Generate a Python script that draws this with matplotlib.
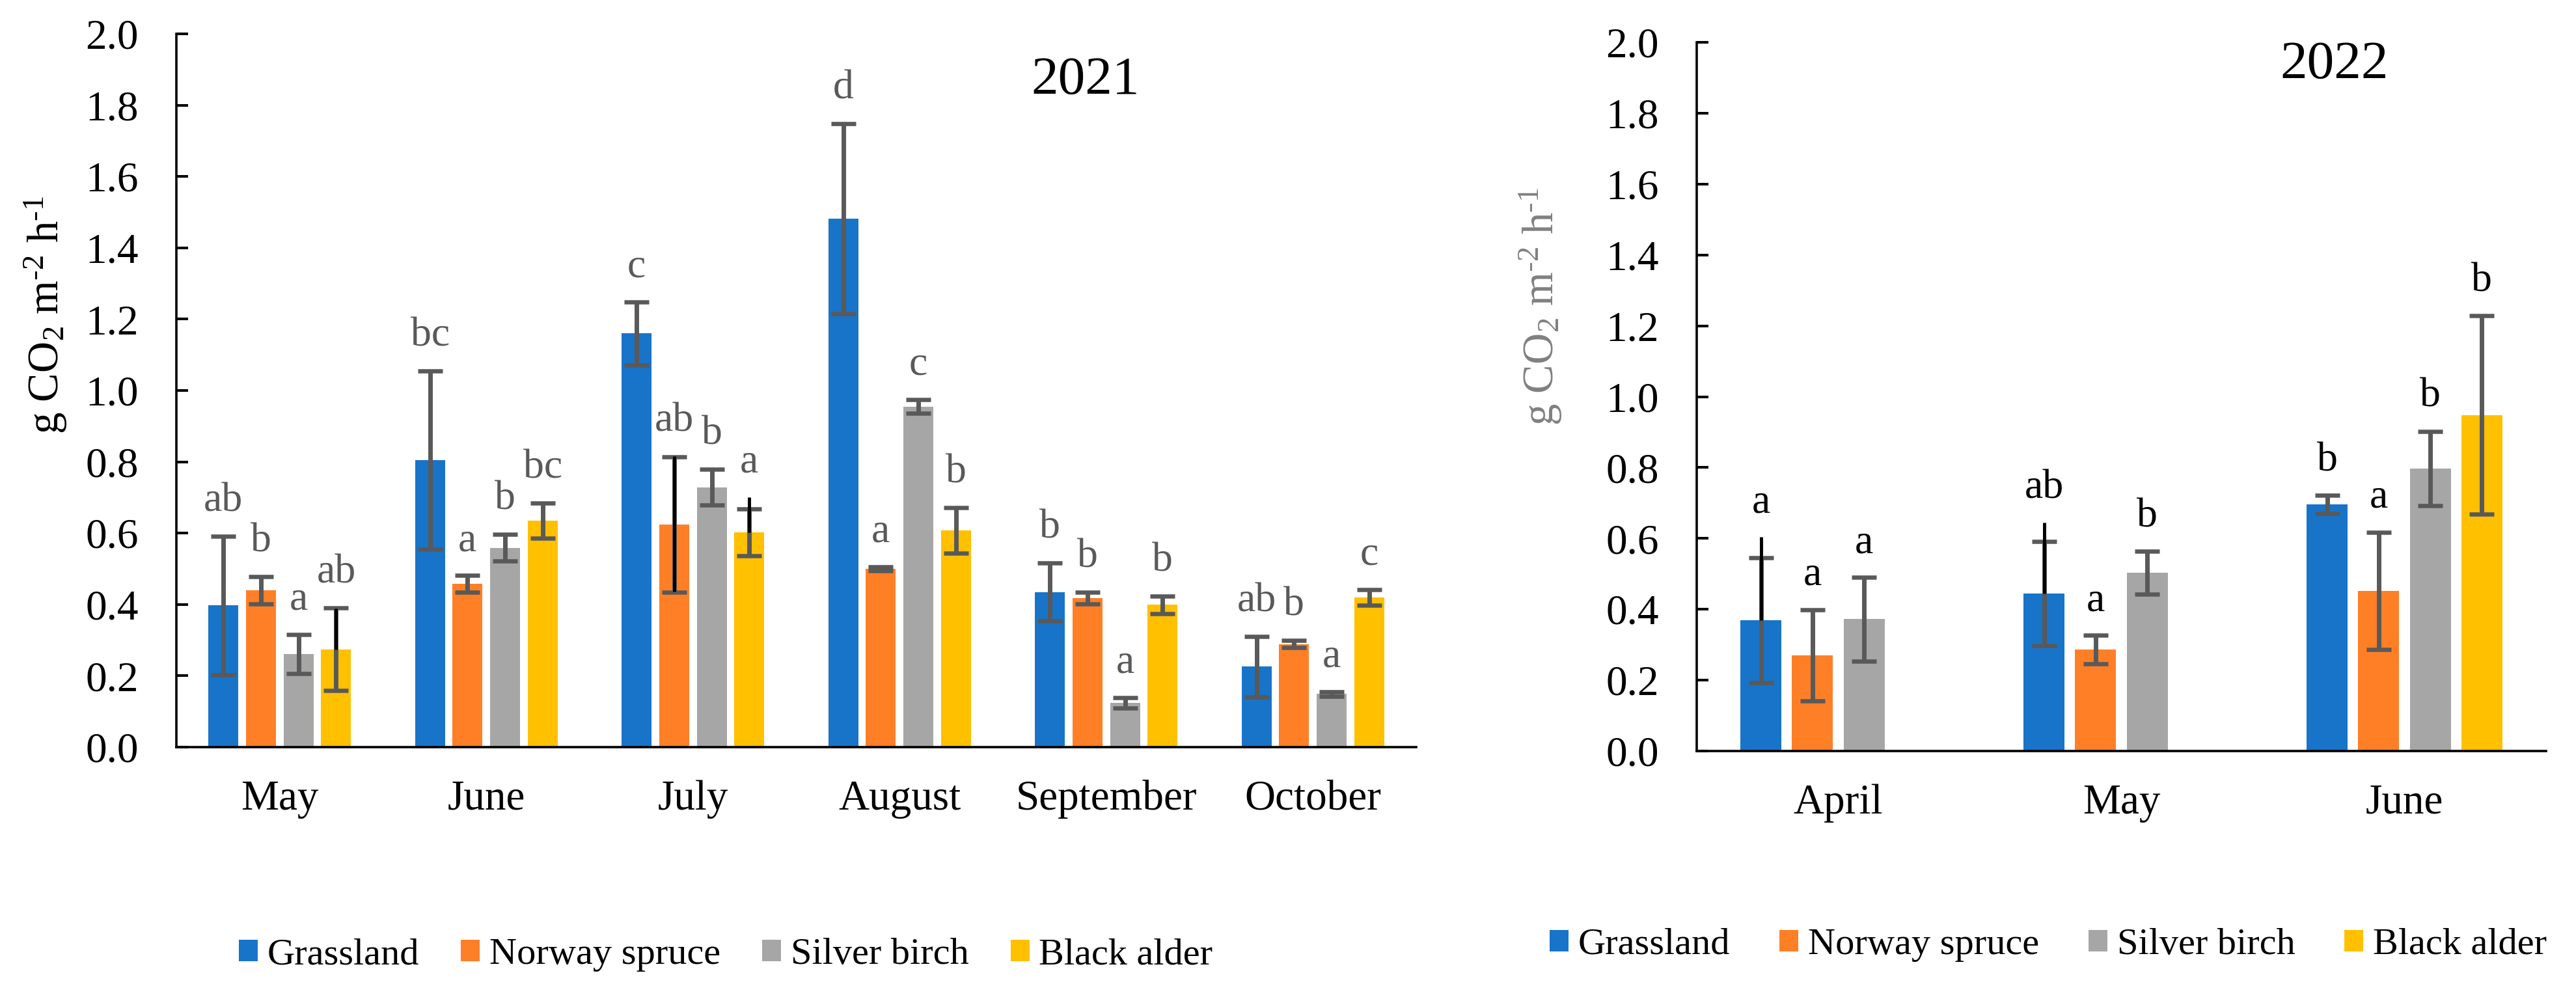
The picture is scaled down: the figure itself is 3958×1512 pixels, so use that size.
import numpy as np
import matplotlib.pyplot as plt
from matplotlib.patches import Patch

plt.rcParams['font.family'] = 'Liberation Serif'
plt.rcParams['mathtext.fontset'] = 'custom'
plt.rcParams['mathtext.rm'] = 'Liberation Serif'
plt.rcParams['mathtext.it'] = 'Liberation Serif:italic'

# ---- data ----
series_names = ['Grassland', 'Norway spruce', 'Silver birch', 'Black alder']
colors = ['#1874C8', '#FF7F27', '#A6A6A6', '#FFC000']

months21 = ['May', 'June', 'July', 'August', 'September', 'October']
grass21 = [0.397, 0.805, 1.160, 1.482, 0.435, 0.226]
grass21_err = [0.194, 0.250, 0.088, 0.266, 0.081, 0.085]
spruce21 = [0.440, 0.458, 0.624, 0.500, 0.418, 0.289]
spruce21_err = [0.038, 0.023, 0.190, 0.005, 0.017, 0.010]
birch21 = [0.261, 0.559, 0.729, 0.955, 0.124, 0.149]
birch21_err = [0.055, 0.038, 0.051, 0.019, 0.015, 0.007]
alder21 = [0.274, 0.635, 0.602, 0.608, 0.399, 0.419]
alder21_err = [0.116, 0.050, 0.066, 0.064, 0.025, 0.022]
grass21_lab = ['ab', 'bc', 'c', 'd', 'b', 'ab']
spruce21_lab = ['b', 'a', 'ab', 'a', 'b', 'b']
birch21_lab = ['a', 'b', 'b', 'c', 'a', 'a']
alder21_lab = ['ab', 'bc', 'a', 'b', 'b', 'c']
# extra black error stems: (series, month, low, high)
black21 = [(3, 0, 0.274, 0.389), (1, 2, 0.436, 0.816), (3, 2, 0.602, 0.701)]

months22 = ['April', 'May', 'June']
grass22 = [0.369, 0.445, 0.696]
grass22_err = [0.176, 0.147, 0.025]
spruce22 = [0.270, 0.286, 0.452]
spruce22_err = [0.129, 0.040, 0.165]
birch22 = [0.372, 0.503, 0.797]
birch22_err = [0.118, 0.060, 0.105]
alder22 = [np.nan, np.nan, 0.948]
alder22_err = [np.nan, np.nan, 0.280]
grass22_lab = ['a', 'ab', 'b']
spruce22_lab = ['a', 'a', 'a']
birch22_lab = ['a', 'b', 'b']
alder22_lab = ['', '', 'b']
black22 = [(0, 0, 0.369, 0.604), (0, 1, 0.445, 0.644)]

ylabel = 'g CO$_\\mathregular{2}$ m$^\\mathregular{\u20102}$ h$^\\mathregular{\u20101}$'

W, H = 3958, 1512
fig = plt.figure(figsize=(W / 100, H / 100), dpi=100)


def draw(ax, months, vals, errs, labs, blacks, lab_color, title, title_xy):
    x = np.arange(len(months))
    pitch, bw = 0.182, 0.145
    for i in range(4):
        pos = x + (i - 1.5) * pitch
        v = np.array(vals[i], dtype=float)
        e = np.array(errs[i], dtype=float)
        ax.bar(pos, v, width=bw, color=colors[i], zorder=2)
        ax.errorbar(pos, v, yerr=e, fmt='none', ecolor='#595959',
                    elinewidth=5, capsize=14, capthick=4.7, zorder=3)
        tops = v + e
        for s, m, lo, hi in blacks:
            if s == i:
                tops[m] = max(tops[m], hi)
        for j in range(len(months)):
            if labs[i][j]:
                ax.text(pos[j], tops[j] + 0.07, labs[i][j], ha='center',
                        va='baseline', fontsize=46, color=lab_color, zorder=5)
    for s, m, lo, hi in blacks:
        px = m + (s - 1.5) * pitch
        ax.plot([px, px], [lo, hi], color='black', lw=3.6,
                solid_capstyle='butt', zorder=4)

    ax.set_xlim(-0.5, len(months) - 0.5)
    ax.set_ylim(0, 2.0)
    ax.set_yticks(np.arange(0, 2.01, 0.2))
    ax.set_yticklabels(['%.1f' % t for t in np.arange(0, 2.01, 0.2)])
    ax.set_xticks(x)
    ax.set_xticklabels(months)
    ax.tick_params(axis='y', direction='in', length=13, width=2.9,
                   labelsize=47, pad=42)
    ax.tick_params(axis='x', length=0, labelsize=47, pad=36)
    for sp in ['top', 'right']:
        ax.spines[sp].set_visible(False)
    for sp in ['left', 'bottom']:
        ax.spines[sp].set_linewidth(2.6)
    ax.text(title_xy[0], title_xy[1], title, ha='center', va='baseline',
            fontsize=60)


ax1 = fig.add_axes([271 / W, 1 - 1148 / H, 1905 / W, 1096 / H])
draw(ax1, months21,
     [grass21, spruce21, birch21, alder21],
     [grass21_err, spruce21_err, birch21_err, alder21_err],
     [grass21_lab, spruce21_lab, birch21_lab, alder21_lab],
     black21, '#595959', '2021', (3.9, 1.832))

ax2 = fig.add_axes([2607 / W, 1 - 1154 / H, 1305 / W, 1089 / H])
draw(ax2, months22,
     [grass22, spruce22, birch22, alder22],
     [grass22_err, spruce22_err, birch22_err, alder22_err],
     [grass22_lab, spruce22_lab, birch22_lab, alder22_lab],
     black22, 'black', '2022', (1.753, 1.90))

fig.text(70 / W, 1 - 484 / H, ylabel, rotation=90, ha='center', va='center',
         fontsize=48, color='black')
fig.text(2367 / W, 1 - 471 / H, ylabel, rotation=90, ha='center', va='center',
         fontsize=48, color='#808080')

handles = [Patch(facecolor=c, edgecolor='none') for c in colors]
fig.legend(handles, series_names, loc='center', ncol=4, frameon=False,
           bbox_to_anchor=(1115 / W, 1 - 1467 / H), fontsize=42,
           handlelength=0.5, handleheight=0.5, handletextpad=0.25,
           columnspacing=1.1)
fig.legend(handles, series_names, loc='center', ncol=4, frameon=False,
           bbox_to_anchor=(3147 / W, 1 - 1452 / H), fontsize=42,
           handlelength=0.5, handleheight=0.5, handletextpad=0.25,
           columnspacing=1.3)

fig.savefig('out.png', dpi=100)
